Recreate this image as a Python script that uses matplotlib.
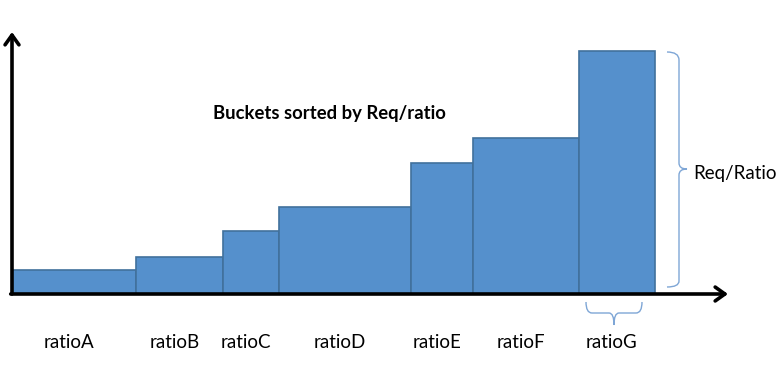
import numpy as np
import matplotlib
matplotlib.use('Agg')
import matplotlib.pyplot as plt
from matplotlib.path import Path
from matplotlib.patches import PathPatch

plt.rcParams['font.family'] = ['Lato', 'DejaVu Sans']

labels = ['ratioA', 'ratioB', 'ratioC', 'ratioD', 'ratioE', 'ratioF', 'ratioG']
widths = [124, 87, 56, 132, 62, 106, 76]
heights = [24, 37, 63, 87, 131, 156, 243]

fill = '#5590cc'
edge = '#41719c'
brace_col = '#7ea6d6'

fig = plt.figure(figsize=(7.84, 3.68), dpi=100)
ax = fig.add_axes([0, 0, 1, 1])
ax.set_xlim(0, 784)
ax.set_ylim(-74, 294)
ax.axis('off')

x0 = 12
lefts = x0 + np.concatenate([[0], np.cumsum(widths)[:-1]])
ax.bar(lefts, heights, width=widths, align='edge', color=fill,
       edgecolor=edge, linewidth=1.2, zorder=2)

for left, w, lab in zip(lefts, widths, labels):
    ax.text(left + w / 2 - 5, -49, lab, ha='center', va='center', fontsize=13.5)

# axes arrows
arrow = dict(arrowstyle='->,head_length=0.7,head_width=0.5', lw=2.6, color='black',
             shrinkA=0, shrinkB=0)
ax.annotate('', xy=(x0, 262), xytext=(x0, 0), arrowprops=arrow, zorder=3)
ax.annotate('', xy=(728, 0), xytext=(x0 - 1.3, 0), arrowprops=arrow, zorder=3)

ax.text(329, 181, 'Buckets sorted by Req/ratio', ha='center', va='center',
        fontsize=13.3, fontweight='bold')

# right brace spanning the tallest bar
top = heights[-1] - 1
bot = 7
mid = 125
bx = 679
verts = [(667, top), (bx, top), (bx, top - 8),
         (bx, mid + 6), (bx, mid), (687, mid),
         (bx, mid), (bx, mid - 6),
         (bx, bot + 6), (bx, bot), (667, bot)]
codes = [Path.MOVETO, Path.CURVE3, Path.CURVE3,
         Path.LINETO, Path.CURVE3, Path.CURVE3,
         Path.CURVE3, Path.CURVE3,
         Path.LINETO, Path.CURVE3, Path.CURVE3]
ax.add_patch(PathPatch(Path(verts, codes), fill=False, edgecolor=brace_col, lw=1.0))
ax.text(693, mid - 4, 'Req/Ratio', ha='left', va='center', fontsize=13.5)

# bottom brace under the last bucket
gl = lefts[-1] + 7
gr = lefts[-1] + widths[-1] - 13
gm = (gl + gr) / 2
by = -19
verts = [(gl, -8), (gl, by), (gl + 6, by),
         (gm - 5, by), (gm, by), (gm, -31),
         (gm, by), (gm + 5, by),
         (gr - 6, by), (gr, by), (gr, -8)]
ax.add_patch(PathPatch(Path(verts, codes), fill=False, edgecolor=brace_col, lw=1.0))

fig.savefig('out.png', dpi=100)
